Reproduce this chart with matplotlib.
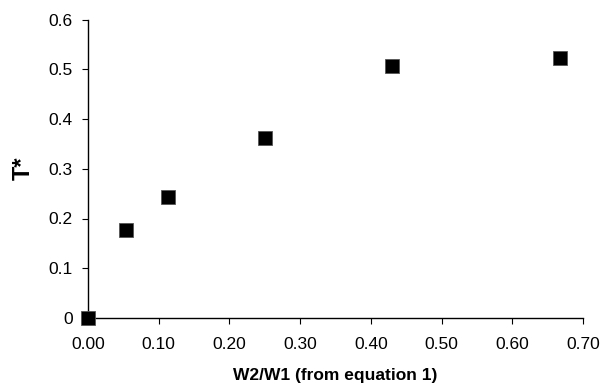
import matplotlib.pyplot as plt
from matplotlib.ticker import FuncFormatter

plt.rcParams['font.family'] = ['Liberation Sans', 'DejaVu Sans']

# data
w_ratio = [0.0, 0.054, 0.113, 0.250, 0.430, 0.667]
t_star = [0.0, 0.176, 0.243, 0.362, 0.506, 0.522]

x_ticks = [0.0, 0.1, 0.2, 0.3, 0.4, 0.5, 0.6, 0.7]
y_ticks = [0.0, 0.1, 0.2, 0.3, 0.4, 0.5, 0.6]

fig = plt.figure(figsize=(6.03, 3.87), dpi=100)
ax = fig.add_axes([88/603, 1 - 318/387, (583 - 88)/603, (318 - 19.5)/387])

ax.plot(w_ratio, t_star, linestyle="none", marker="s", markersize=9.5,
        markerfacecolor="black", markeredgecolor="#555555", markeredgewidth=0.6,
        clip_on=False, zorder=3)

ax.set_xlim(0, 0.7)
ax.set_ylim(0, 0.6)
ax.set_xticks(x_ticks)
ax.set_yticks(y_ticks)
ax.xaxis.set_major_formatter(FuncFormatter(lambda v, p: f"{v:.2f}"))
ax.yaxis.set_major_formatter(FuncFormatter(lambda v, p: "0" if v == 0 else f"{v:.1f}"))

for s in ["top", "right"]:
    ax.spines[s].set_visible(False)
for s in ["left", "bottom"]:
    ax.spines[s].set_linewidth(1.0)

ax.tick_params(axis="both", direction="out", length=4, width=0.8, labelsize=12.5, colors="black")
ax.tick_params(axis="x", pad=10)
ax.tick_params(axis="y", pad=7)

ax.set_xlabel("W2/W1 (from equation 1)", fontsize=12.5, fontweight="bold", labelpad=11)
ax.set_ylabel("T*", fontsize=17, fontweight="bold", labelpad=10)

fig.savefig("out.png", dpi=100)
